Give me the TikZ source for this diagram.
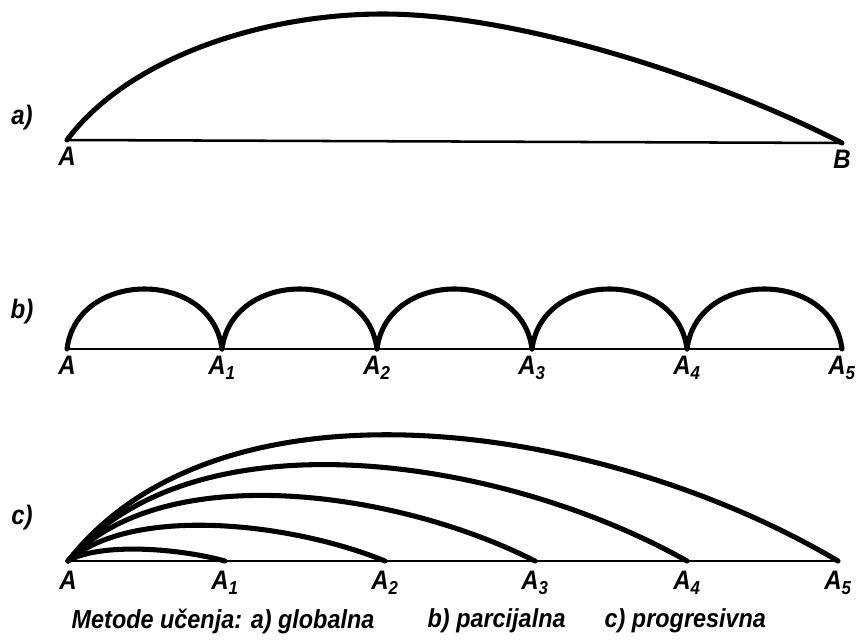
\documentclass[tikz,border=0pt]{standalone}
\usepackage{fontspec}
\setmainfont{Liberation Sans}[FakeStretch=0.9]
\usepackage{tikz}
\usetikzlibrary{calc,positioning}

\begin{document}
\begin{tikzpicture}[x=0.025cm,y=-0.025cm,
  arch/.style={line width=3.6pt,line cap=round},
  base/.style={line width=1.8pt},
  lbl/.style={font=\fontsize{19}{19}\selectfont\bfseries\itshape,inner sep=1pt},
  pt/.style={lbl,below=4pt},
  captxt/.style={lbl,anchor=west,font=\fontsize{18.5}{18.5}\selectfont\bfseries\itshape}]
  \useasboundingbox (0,0) rectangle (860,642);
  % a) globalna
  \coordinate (aA) at (67,140);
  \coordinate (aB) at (842,143);
  \node[lbl] (la) at (22,118) {a)};
  \draw[base] (aA) -- (aB);
  \draw[arch] (aA) .. controls (128,58) and (262,14) .. (383,14)
    .. controls (520,14) and (720,80) .. (aB);
  \node[pt] (laA) at (aA) {A};
  \node[pt] (laB) at (aB) {B};
  % b) parcijalna
  \node[lbl] (lb) at (22,312) {b)};
  \foreach \i in {0,...,5}
    \coordinate (b\i) at (67+155*\i,349);
  \draw[base] (b0) -- (b5);
  \foreach \i/\j in {0/1,1/2,2/3,3/4,4/5}
    \draw[arch] (b\i) .. controls +(10,-80) and +(-10,-80) .. (b\j);
  \node[pt] (lb0) at (b0) {A};
  \foreach \i in {1,...,5}
    \node[pt] (lb\i) at (b\i) {A\textsubscript{\i}};
  % c) progresivna
  \node[lbl] (lc) at (22,518) {c)};
  \foreach \i/\x in {0/68,1/225,2/385,3/535,4/687,5/838}
    \coordinate (c\i) at (\x,561);
  \draw[base] (c0) -- (c5);
  \foreach \i/\h in {1/12,2/36,3/66,4/97,5/127}
    \draw[arch] (c0) .. controls ($(c0)!0.2!(c\i)+(0,-1.55*\h)$)
      and ($(c0)!0.7!(c\i)+(0,-1.08*\h)$) .. (c\i);
  \node[pt,below=6pt] (lc0) at (c0) {A};
  \foreach \i in {1,...,5}
    \node[pt,below=6pt] (lc\i) at (c\i) {A\textsubscript{\i}};
  % caption
  \node[captxt] (cap1) at (70,621) {Metode učenja: a) globalna};
  \node[captxt] (cap2) at (426,621) {b) parcijalna};
  \node[captxt] (cap3) at (603,621) {c) progresivna};
\end{tikzpicture}
\end{document}
